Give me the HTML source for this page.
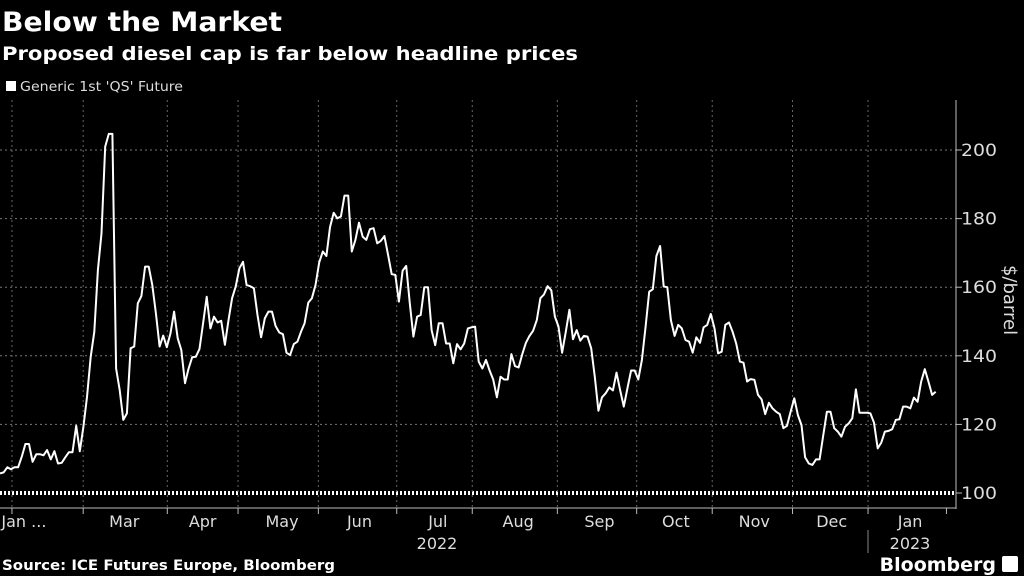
<!DOCTYPE html>
<html><head><meta charset="utf-8"><style>
body{margin:0;background:#000;width:1024px;height:576px;overflow:hidden;font-family:"DejaVu Sans","Liberation Sans",sans-serif;color:#fff}
svg{position:absolute;left:0;top:0}
</style></head><body>
<svg width="1024" height="576">
<text x="2" y="31" font-size="27" font-weight="bold" fill="#fff" textLength="280" lengthAdjust="spacingAndGlyphs">Below the Market</text>
<text x="2" y="60" font-size="19" font-weight="bold" fill="#fff" textLength="576" lengthAdjust="spacingAndGlyphs">Proposed diesel cap is far below headline prices</text>
<rect x="6" y="81" width="10" height="10" fill="#fff"/>
<text x="20" y="91" font-size="13" fill="#ddd" textLength="163" lengthAdjust="spacingAndGlyphs">Generic 1st 'QS' Future</text>
<g id="grid"></g>
<g id="axes"></g>
<path id="line" fill="none" stroke="#fff" stroke-width="2" stroke-linejoin="round"/>
<text transform="translate(1004,300) rotate(90)" text-anchor="middle" font-size="18" fill="#ddd">$/barrel</text>
<text x="2" y="570" font-size="14" font-weight="bold" fill="#fff" textLength="333" lengthAdjust="spacingAndGlyphs">Source: ICE Futures Europe, Bloomberg</text>
<text x="996" y="571" text-anchor="end" font-size="19" font-weight="bold" fill="#fff">Bloomberg</text>
<rect x="1002" y="556" width="16" height="16" rx="2" fill="#fff"/>
</svg>
<script>
const values=[105.7,106,107.5,106.9,107.5,107.5,110.6,114.3,114.3,109.1,111.3,111.3,111,112.5,109.8,112.2,108.6,108.8,110.4,111.9,111.9,119.6,112.2,119.3,128,139.7,147,165,175.7,201,204.7,204.7,136.3,130,121.3,123.2,142.2,142.7,155.3,157.4,166,166,160.6,152.4,142.7,145.9,142.5,146.6,152.9,145.1,141.7,132,136.3,139.6,139.7,142,149.5,157.2,148,151.4,149.7,150.2,143.2,150.4,156.8,160.2,165.5,167.4,160.6,160.3,159.7,151.9,145.4,150.9,152.9,152.9,148.7,146.8,146.3,140.9,140.2,143.4,144.1,147,149.5,155.5,156.8,160.6,167.2,170.4,169.1,177.5,181.7,180.1,180.6,
186.7,186.7,170.4,173.8,178.8,174.7,173.8,176.9,177.2,172.8,173.5,174.9,169.4,163.8,163.6,155.8,164.8,166.2,155.3,145.6,151.4,151.9,160,160,147.5,143.1,149.5,149.5,143.6,143.6,137.8,143.4,141.9,143.6,148,148.3,148.5,138.3,136.3,138.8,135.7,133.1,127.9,133.9,133.1,133.1,140.5,137,136.6,140.5,143.8,145.8,147.3,150.4,156.8,157.9,160.3,159.1,151.4,148.5,140.9,147,153.4,144.8,147.5,144.4,145.8,145.6,142.2,133.9,124,127.9,129.1,130.8,129.9,135.1,129.9,125.2,130.5,135.7,135.7,133.1,138.8,148.5,158.7,159.4,169.1,172,160.2,
160,150.4,145.8,149,148,144.6,144.1,140.9,145.4,143.8,148.3,149,152.2,148,140.7,141.2,149,149.7,147,143.6,138.3,138,132.5,133.2,133,128.6,127.3,123,126.3,124.7,123.7,123,118.9,119.6,123.7,127.6,122.7,119.8,110.4,108.6,108.2,109.8,109.8,116.9,123.7,123.7,118.9,117.9,116.4,119.3,120.3,121.8,130.2,123.4,123.4,123.4,123.2,120.5,113,114.7,117.9,118.1,118.6,121.3,121.5,125.2,125.2,124.7,127.8,126.6,132.5,136.1,132.5,128.6,129.5];
const yTicks=[100,120,140,160,180,200];
const monthLabels=["Jan ...","Mar","Apr","May","Jun","Jul","Aug","Sep","Oct","Nov","Dec","Jan"];
const monthLabelPos=[0.025,0.13,0.212,0.295,0.376,0.458,0.542,0.627,0.707,0.789,0.87,0.952];
const monthTickPos=[0.0125,0.087,0.175,0.249,0.333,0.415,0.494,0.583,0.666,0.745,0.829,0.908,0.99];
const NS="http://www.w3.org/2000/svg";
const X0=0,X1=956,Y100=493,PX=3.43;
const y=v=>Y100-(v-100)*PX;
const xi=i=>X0+i*935.7/(values.length-1);
const xf=f=>X0+f*X1;
function mk(t,a,p){const e=document.createElementNS(NS,t);for(const k in a)e.setAttribute(k,a[k]);p.appendChild(e);return e;}
const grid=document.getElementById('grid'),axes=document.getElementById('axes');
yTicks.forEach(v=>{
 if(v===100){const l=mk('line',{x1:0,x2:X1,y1:y(v),y2:y(v),stroke:'#fff','stroke-width':4,'stroke-dasharray':'2 2'},grid);
 
 }
 else{const l=mk('line',{x1:0,x2:X1,y1:y(v),y2:y(v),stroke:'#777','stroke-width':1,'stroke-dasharray':'2 3'},grid);
 
 }
 mk('line',{x1:X1,x2:X1+6,y1:y(v),y2:y(v),stroke:'#bbb'},axes);
 const t=mk('text',{x:X1+5,y:y(v)+6,'font-size':17,fill:'#ddd',textLength:36,lengthAdjust:'spacingAndGlyphs'},axes);t.textContent=v;
 
 
});
monthTickPos.slice(0,-1).forEach(f=>{
 const l=mk('line',{x1:xf(f),x2:xf(f),y1:100,y2:507,stroke:'#666','stroke-dasharray':'2 3'},grid);
 
 
});
monthTickPos.forEach(f=>mk('line',{x1:xf(f),x2:xf(f),y1:508,y2:514,stroke:'#bbb'},axes));
mk('line',{x1:X1,x2:X1,y1:100,y2:509,stroke:'#bbb'},axes);
mk('line',{x1:0,x2:X1,y1:508,y2:508,stroke:'#bbb'},axes);
monthLabels.forEach((m,i)=>{const t=mk('text',{x:xf(monthLabelPos[i]),y:527,'font-size':16,fill:'#ddd','text-anchor':'middle'},axes);t.textContent=m;
 
 });
[[437,'2022'],[910,'2023']].forEach(([x,s])=>{const t=mk('text',{x:x,y:549,'font-size':16,fill:'#ddd','text-anchor':'middle'},axes);t.textContent=s;
 
 });
mk('line',{x1:868,x2:868,y1:530,y2:553,stroke:'#888'},axes);
document.getElementById('line').setAttribute('d',values.map((v,i)=>(i?'L':'M')+xi(i).toFixed(1)+','+y(v).toFixed(1)).join(''));
</script>
</body></html>
